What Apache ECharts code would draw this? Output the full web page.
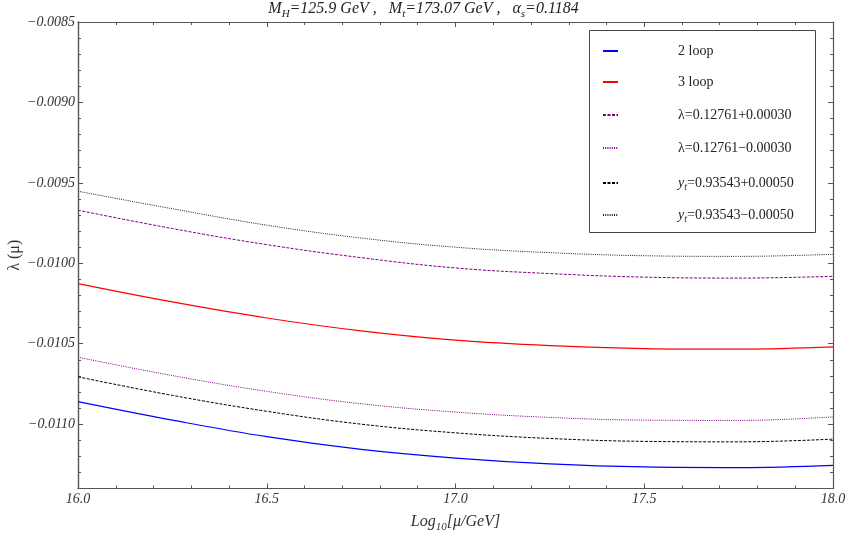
<!DOCTYPE html>
<html>
<head>
<meta charset="utf-8">
<script src="https://cdn.jsdelivr.net/npm/echarts@6/dist/echarts.min.js"></script>
<style>html,body{margin:0;padding:0;background:#fff}#c{width:847px;height:534px}</style>
</head>
<body>
<div id="c"></div>
<script>
// Data
var xs = [16.0, 16.25, 16.5, 16.75, 17.0, 17.25, 17.5, 17.75, 18.0];
var twoLoop   = [-0.010860, -0.010975, -0.011078, -0.011157, -0.011211, -0.011247, -0.011266, -0.011270, -0.011256];
var threeLoop = [-0.010126, -0.010240, -0.010340, -0.010420, -0.010478, -0.010512, -0.010530, -0.010534, -0.010520];
var lamPlus   = [-0.009670, -0.009784, -0.009884, -0.009965, -0.010029, -0.010064, -0.010086, -0.010092, -0.010081];
var lamMinus  = [-0.010584, -0.010698, -0.010796, -0.010873, -0.010925, -0.010958, -0.010975, -0.010977, -0.010955];
var ytPlus    = [-0.010706, -0.010821, -0.010920, -0.011000, -0.011054, -0.011089, -0.011107, -0.011110, -0.011093];
var ytMinus   = [-0.009552, -0.009661, -0.009763, -0.009843, -0.009900, -0.009934, -0.009953, -0.009957, -0.009944];
var seriesNames = ['2 loop', '3 loop', 'λ=0.12761+0.00030', 'λ=0.12761\u22120.00030', 'yt=0.93543+0.00050', 'yt=0.93543\u22120.00050'];
var yMajorTicks = [-0.0110, -0.0105, -0.0100, -0.0095, -0.0090, -0.0085];
var xMin = 16, xMax = 18, yMin = -0.0114, yMax = -0.0085;

function pairs(arr) { return xs.map(function (x, i) { return [x, arr[i]]; }); }

var SERIF = '"Liberation Serif","DejaVu Serif",serif';
var axisColor = '#555';

var chart = echarts.init(document.getElementById('c'), null, {renderer: 'canvas'});

function fmtY(v) {
  var s = Math.abs(v).toFixed(4);
  return (v < 0 ? '\u2212' : '') + s;
}

var tickLabelStyle = {fontFamily: SERIF, fontStyle: 'italic', fontSize: 14, color: '#333'};

var xAxes = [
  {type: 'value', position: 'bottom', min: xMin, max: xMax, interval: 0.5,
   axisLine: {show: true, lineStyle: {color: axisColor, width: 1.2}},
   axisTick: {show: true, inside: true, length: 5, lineStyle: {color: axisColor}},
   axisLabel: Object.assign({margin: 4, formatter: function (v) { return v.toFixed(1); }}, tickLabelStyle),
   splitLine: {show: false},
   name: '{i|Log}{s|10}{i|[μ/GeV]}', nameLocation: 'middle', nameGap: 20,
   nameTextStyle: {fontFamily: SERIF, fontStyle: 'italic', fontSize: 16, color: '#333',
     rich: {
       i: {fontFamily: SERIF, fontStyle: 'italic', fontSize: 16, color: '#333', lineHeight: 18},
       s: {fontFamily: SERIF, fontStyle: 'italic', fontSize: 11, color: '#333', lineHeight: 8, padding: [10, 0, 0, 0]}
     }}},
  {type: 'value', position: 'bottom', min: xMin, max: xMax, interval: 0.1,
   axisLine: {show: false}, axisTick: {show: true, inside: true, length: 3, lineStyle: {color: axisColor}},
   axisLabel: {show: false}, splitLine: {show: false}},
  {type: 'value', position: 'top', min: xMin, max: xMax, interval: 0.5,
   axisLine: {show: true, lineStyle: {color: axisColor, width: 1.2}},
   axisTick: {show: true, inside: true, length: 5, lineStyle: {color: axisColor}},
   axisLabel: {show: false}, splitLine: {show: false}},
  {type: 'value', position: 'top', min: xMin, max: xMax, interval: 0.1,
   axisLine: {show: false}, axisTick: {show: true, inside: true, length: 3, lineStyle: {color: axisColor}},
   axisLabel: {show: false}, splitLine: {show: false}}
];

var yAxes = [
  {type: 'value', position: 'left', min: yMin, max: yMax,
   axisLine: {show: true, lineStyle: {color: axisColor, width: 1.4}},
   axisTick: {show: true, inside: true, length: 5, customValues: yMajorTicks, lineStyle: {color: axisColor}},
   axisLabel: Object.assign({margin: 3, customValues: yMajorTicks, formatter: fmtY}, tickLabelStyle),
   splitLine: {show: false},
   name: 'λ (μ)', nameLocation: 'middle', nameGap: 55, nameMoveOverlap: false,
   nameTextStyle: {fontFamily: SERIF, fontSize: 16, color: '#333'}},
  {type: 'value', position: 'left', min: yMin, max: yMax, interval: 0.0001,
   axisLine: {show: false}, axisTick: {show: true, inside: true, length: 3, lineStyle: {color: axisColor}},
   axisLabel: {show: false}, splitLine: {show: false}},
  {type: 'value', position: 'right', min: yMin, max: yMax,
   axisLine: {show: true, lineStyle: {color: axisColor, width: 1.2}},
   axisTick: {show: true, inside: true, length: 5, customValues: yMajorTicks, lineStyle: {color: axisColor}},
   axisLabel: {show: false, customValues: yMajorTicks}, splitLine: {show: false}},
  {type: 'value', position: 'right', min: yMin, max: yMax, interval: 0.0001,
   axisLine: {show: false}, axisTick: {show: true, inside: true, length: 3, lineStyle: {color: axisColor}},
   axisLabel: {show: false}, splitLine: {show: false}}
];

function mk(name, arr, color, type, width) {
  return {
    name: name, type: 'line', data: pairs(arr), xAxisIndex: 0, yAxisIndex: 0,
    smooth: 0.4, symbol: 'none', showSymbol: false,
    lineStyle: {color: color, type: type, width: width}, itemStyle: {color: color},
    emphasis: {disabled: true}, z: 3
  };
}

var legendRich = {
  g: {width: 55, lineHeight: 16, fontSize: 14},
  n: {fontFamily: SERIF, fontSize: 14, color: '#222', lineHeight: 16},
  i: {fontFamily: SERIF, fontStyle: 'italic', fontSize: 14, color: '#222', lineHeight: 16},
  s: {fontFamily: SERIF, fontStyle: 'italic', fontSize: 10, color: '#222', lineHeight: 8, padding: [8, 0, 0, 0]}
};

// one legend component per row so each row sits at its own height
var legendRowCenters = [51, 82, 115, 148, 181, 213];
var legends = seriesNames.map(function (nm, k) {
  return {
    orient: 'vertical', left: 602, top: legendRowCenters[k] - 7, padding: 0, z: 60,
    itemWidth: 15, itemHeight: 14,
    itemStyle: {opacity: 0},
    data: [nm],
    formatter: function (name) {
      if (name.indexOf('yt') === 0) return '{g|}{i|y}{s|t}{n|' + name.slice(2) + '}';
      return '{g|}{n|' + name + '}';
    },
    textStyle: {fontFamily: SERIF, fontSize: 14, color: '#222', rich: legendRich}
  };
});

var option = {
  animation: false,
  backgroundColor: '#fff',
  title: {
    text: '{i|M}{s|H}{i|=125.9 GeV ,   M}{s|t}{i|=173.07 GeV ,   α}{s|s}{i|=0.1184}',
    left: 'center', top: 0, padding: [0, 0, 0, 10],
    textStyle: {
      fontFamily: SERIF, fontStyle: 'italic', fontSize: 16, fontWeight: 'normal', color: '#222',
      rich: {
        i: {fontFamily: SERIF, fontStyle: 'italic', fontSize: 16, color: '#222', lineHeight: 18},
        s: {fontFamily: SERIF, fontStyle: 'italic', fontSize: 11, color: '#222', lineHeight: 8, padding: [10, 0, 0, 0]}
      }
    }
  },
  grid: {left: 78, top: 22, width: 755, height: 466.5, containLabel: false, outerBoundsMode: 'none'},
  graphic: [{
    type: 'rect', left: 589, top: 30, z: 50,
    shape: {width: 226, height: 202},
    style: {fill: '#fff', stroke: '#444', lineWidth: 1}
  }],
  legend: legends,
  xAxis: xAxes,
  yAxis: yAxes,
  series: [
    mk(seriesNames[0], twoLoop, '#0000ff', 'solid', 1.2),
    mk(seriesNames[1], threeLoop, '#ff0000', 'solid', 1.2),
    mk(seriesNames[2], lamPlus, '#800080', [3, 1.5], 1),
    mk(seriesNames[3], lamMinus, '#800080', [1, 1.2], 1),
    mk(seriesNames[4], ytPlus, '#000000', [3, 1.5], 1),
    mk(seriesNames[5], ytMinus, '#222222', [1, 1.2], 1)
  ]
};
chart.setOption(option);
</script>
</body>
</html>
